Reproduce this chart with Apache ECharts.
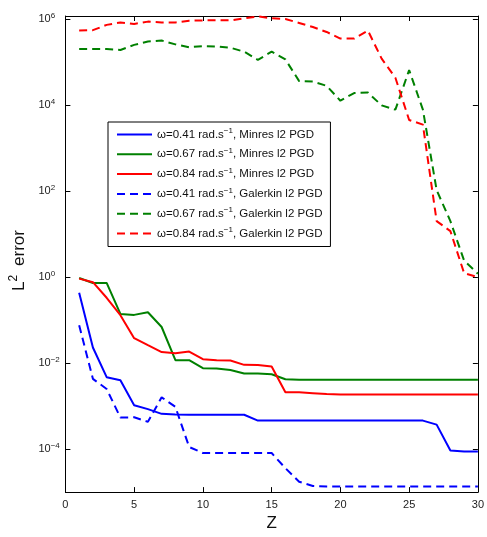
<!DOCTYPE html>
<html>
<head>
<meta charset="utf-8">
<script src="https://cdn.jsdelivr.net/npm/echarts@6/dist/echarts.min.js"></script>
<style>
  html, body { margin: 0; padding: 0; background: #fff; }
  #chart { width: 487px; height: 537px; }
</style>
</head>
<body>
<div id="chart"></div>
<script>
// z values (abscissa)
const zValues = [1, 2, 3, 4, 5, 6, 7, 8, 9, 10, 11, 12, 13, 14, 15,
  16, 17, 18, 19, 20, 21, 22, 23, 24, 25, 26, 27, 28, 29, 30];

// L2 error, Minres l2 PGD
const minres041 = [0.43, 0.023, 0.0047, 0.0040, 0.00105, 0.00085, 0.00066, 0.00064, 0.00063, 0.00063,
  0.00063, 0.00063, 0.00063, 0.00046, 0.00046, 0.00046, 0.00046, 0.00046, 0.00046, 0.00046,
  0.00046, 0.00046, 0.00046, 0.00046, 0.00046, 0.00046, 0.00037, 0.000093, 0.000088, 0.000088];
const minres067 = [0.95, 0.73, 0.73, 0.139, 0.132, 0.152, 0.069, 0.0117, 0.0117, 0.0076,
  0.0075, 0.0069, 0.0057, 0.0057, 0.0055, 0.0042, 0.0041, 0.0041, 0.0041, 0.0041,
  0.0041, 0.0041, 0.0041, 0.0041, 0.0041, 0.0041, 0.0041, 0.0041, 0.0041, 0.0041];
const minres084 = [0.92, 0.76, 0.33, 0.13, 0.038, 0.026, 0.018, 0.017, 0.0185, 0.0123,
  0.0117, 0.0115, 0.0091, 0.009, 0.0083, 0.0021, 0.0021, 0.0020, 0.0019, 0.00185,
  0.00185, 0.00185, 0.00185, 0.00185, 0.00185, 0.00185, 0.00185, 0.00185, 0.00185, 0.00185];

// L2 error, Galerkin l2 PGD
const galerkin041 = [0.076, 0.0043, 0.0025, 0.00054, 0.00055, 0.00043, 0.0016, 0.00096, 0.000112, 0.000081,
  0.000081, 0.000081, 0.000081, 0.000081, 0.000081, 0.000036, 0.0000174, 0.0000139, 0.0000135, 0.0000135,
  0.0000135, 0.0000135, 0.0000135, 0.0000135, 0.0000135, 0.0000135, 0.0000135, 0.0000135, 0.0000135, 0.0000135];
const galerkin067 = [2.0e5, 2.0e5, 2.0e5, 1.9e5, 2.5e5, 3.0e5, 3.16e5, 2.57e5, 2.2e5, 2.35e5,
  2.3e5, 2.15e5, 1.74e5, 1.12e5, 1.74e5, 1.15e5, 3.6e4, 3.5e4, 2.8e4, 1.26e4,
  1.9e4, 1.95e4, 9.8e3, 7.8e3, 6.5e4, 7.8e3, 105, 20, 2.4, 1.2];
const galerkin084 = [5.4e5, 5.5e5, 7.3e5, 8.3e5, 7.7e5, 8.7e5, 8.3e5, 8.3e5, 9.1e5, 9.3e5,
  9.3e5, 9.3e5, 1.04e6, 1.15e6, 1.04e6, 1.0e6, 8.1e5, 6.5e5, 5.0e5, 3.5e5,
  3.5e5, 5.4e5, 1.2e5, 4.3e4, 4.5e3, 3.5e3, 20, 11.7, 1.23, 1.0];

const seriesNames = [
  'ω=0.41 rad.s^-1, Minres l2 PGD',
  'ω=0.67 rad.s^-1, Minres l2 PGD',
  'ω=0.84 rad.s^-1, Minres l2 PGD',
  'ω=0.41 rad.s^-1, Galerkin l2 PGD',
  'ω=0.67 rad.s^-1, Galerkin l2 PGD',
  'ω=0.84 rad.s^-1, Galerkin l2 PGD'
];
const seriesValues = [minres041, minres067, minres084, galerkin041, galerkin067, galerkin084];
const seriesColors = ['#0000ff', '#008000', '#ff0000', '#0000ff', '#008000', '#ff0000'];
const seriesDashed = [false, false, false, true, true, true];

// log10 extent of the y axis
const yMinExp = -5;
const yMaxExp = 6.07;

const FONT = '"Liberation Sans", Arial, sans-serif';

const chart = echarts.init(document.getElementById('chart'), null, { renderer: 'canvas' });

const yLabel = (v) => {
  const e = Math.round(v);
  if (Math.abs(v - e) > 1e-6 || e % 2 !== 0) return '';
  return '{b|10}{sup|' + (e < 0 ? '−' + (-e) : e) + '}';
};

const series = seriesNames.map((name, i) => ({
  name: name,
  type: 'line',
  symbol: 'none',
  data: zValues.map((z, k) => [z, Math.log10(seriesValues[i][k])]),
  lineStyle: {
    color: seriesColors[i],
    width: 2,
    type: seriesDashed[i] ? [8, 5] : 'solid'
  },
  itemStyle: { color: seriesColors[i] }
}));

const baseX = {
  type: 'value', min: 0, max: 30, interval: 5,
  axisLine: { show: true, onZero: false, lineStyle: { color: '#000', width: 1 } },
  axisTick: { show: true, inside: true, length: 5, lineStyle: { color: '#000' } },
  splitLine: { show: false }
};
const baseY = {
  type: 'value', min: yMinExp, max: yMaxExp,
  axisLine: { show: true, onZero: false, lineStyle: { color: '#000', width: 1 } },
  axisTick: { show: true, inside: true, length: 5, lineStyle: { color: '#000' } },
  splitLine: { show: false }
};

const option = {
  animation: false,
  backgroundColor: '#fff',
  grid: { left: 65, right: 6, top: 16, bottom: 34, containLabel: false },
  legend: {
    orient: 'vertical',
    left: 108,
    top: 122,
    padding: [5, 8, 7, 8],
    itemWidth: 35,
    itemHeight: 14,
    itemGap: 6.3,
    backgroundColor: '#fff',
    borderColor: '#000',
    borderWidth: 1,
    borderRadius: 0,
    data: seriesNames,
    itemStyle: { opacity: 0 },
    formatter: (name) => name.replace('^-1', '{sup|−1}'),
    textStyle: {
      color: '#111',
      fontFamily: FONT,
      fontSize: 11.5,
      rich: {
        sup: { fontSize: 8, fontFamily: FONT, color: '#111', padding: [0, 0, 7, 0] }
      }
    }
  },
  xAxis: [
    Object.assign({}, baseX, {
      position: 'bottom',
      name: 'Z',
      nameLocation: 'middle',
      nameGap: 22,
      nameTextStyle: { color: '#111', fontFamily: FONT, fontSize: 17 },
      axisLabel: { color: '#222', fontFamily: FONT, fontSize: 11, margin: 7 }
    }),
    Object.assign({}, baseX, { position: 'top', axisLabel: { show: false } })
  ],
  yAxis: [
    Object.assign({}, baseY, {
      position: 'left',
      name: '{b|L}{sup|2}{gap|}{b|error}',
      nameLocation: 'middle',
      nameGap: 28,
      nameTextStyle: {
        color: '#111',
        padding: [0, 13, 0, 0],
        rich: {
          b: { fontFamily: FONT, fontSize: 17, color: '#111' },
          sup: { fontFamily: FONT, fontSize: 12, color: '#111', padding: [0, 0, 10, 0] },
          gap: { width: 9 }
        }
      },
      axisLabel: {
        align: 'left',
        margin: 27,
        formatter: yLabel,
        rich: {
          b: { fontFamily: FONT, fontSize: 11, color: '#222' },
          sup: { fontFamily: FONT, fontSize: 8, color: '#222', padding: [0, 0, 7, 0] }
        }
      }
    }),
    Object.assign({}, baseY, { position: 'right', axisLabel: { show: false } })
  ],
  series: series
};

chart.setOption(option);
</script>
</body>
</html>
